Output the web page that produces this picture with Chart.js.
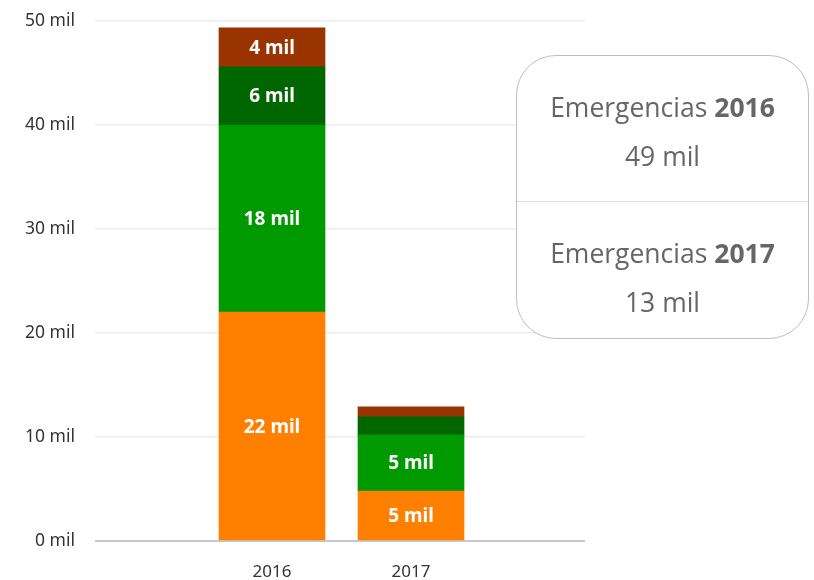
<!DOCTYPE html>
<html>
<head>
<meta charset="utf-8">
<script src="https://cdn.jsdelivr.net/npm/chart.js@4.4.1/dist/chart.umd.min.js"></script>
<style>
  html, body { margin: 0; padding: 0; background: #fff; }
  .wrap { position: relative; width: 814px; height: 580px; }
  #chart { position: absolute; left: 0; top: 0; }
  .resumen {
    position: absolute; left: 516px; top: 55px; width: 293px; height: 284px;
    border: 1px solid #bdbdbd; border-radius: 40px; background: #fff;
    font-family: "Open Sans", sans-serif; color: #666; text-align: center;
    box-sizing: border-box; overflow: hidden;
  }
  .resumen .item { height: 145px; padding-top: 27px; box-sizing: border-box; font-size: 26.5px; line-height: 49px; }
  .resumen .item + .item { border-top: 1px solid #ddd; height: 139px; padding-top: 27px; }
  .resumen b { font-weight: 700; }
</style>
</head>
<body>
<div class="wrap">
  <canvas id="chart" width="814" height="580"></canvas>
  <div class="resumen" id="resumen"></div>
</div>
<script>
  // datos (miles de emergencias)
  const years = ["2016", "2017"];
  const serieNaranja = [22.0, 4.8];
  const serieVerde = [18.0, 5.4];
  const serieVerdeOscuro = [5.6, 1.75];
  const serieMarron = [3.75, 0.95];
  const yTicks = [0, 10, 20, 30, 40, 50];

  const colores = ["#ff8000", "#009900", "#006600", "#993300"];
  const series = [serieNaranja, serieVerde, serieVerdeOscuro, serieMarron];

  const toPoints = (arr) => arr.map((v, i) => ({ x: i, y: v }));

  // etiquetas dentro de las barras
  const segmentLabels = {
    id: "segmentLabels",
    afterDatasetsDraw(chart) {
      const ctx = chart.ctx;
      ctx.save();
      ctx.fillStyle = "#fff";
      ctx.font = "bold 19px 'Noto Sans', sans-serif";
      ctx.textAlign = "center";
      ctx.textBaseline = "middle";
      chart.data.datasets.forEach((ds, di) => {
        const meta = chart.getDatasetMeta(di);
        meta.data.forEach((bar, i) => {
          const v = ds.data[i].y;
          if (v < 2.5) return;
          ctx.fillText(Math.round(v) + " mil", bar.x, (bar.y + bar.base) / 2 + 1);
        });
      });
      ctx.restore();
    },
  };

  new Chart(document.getElementById("chart").getContext("2d"), {
    type: "bar",
    data: {
      datasets: series.map((s, i) => ({
        data: toPoints(s),
        backgroundColor: colores[i],
        borderWidth: 0,
        barThickness: 106,
      })),
    },
    options: {
      responsive: false,
      animation: false,
      layout: { padding: { top: 21, right: 229, left: 0, bottom: 0 } },
      plugins: { legend: { display: false }, tooltip: { enabled: false } },
      scales: {
        x: {
          type: "linear",
          stacked: true,
          offset: false,
          min: -1.2734,
          max: 2.2518,
          afterBuildTicks: (scale) => {
            scale.ticks = years.map((y, i) => ({ value: i }));
          },
          afterFit: (scale) => { scale.height = 39; },
          grid: { display: false, drawTicks: false, offset: false },
          border: { display: false },
          ticks: {
            padding: 21,
            color: "#333",
            font: { family: "'Noto Sans', sans-serif", size: 17 },
            callback: (v) => years[v] || "",
          },
        },
        y: {
          stacked: true,
          min: 0,
          max: 50,
          afterBuildTicks: (scale) => {
            scale.ticks = yTicks.map((v) => ({ value: v }));
          },
          afterFit: (scale) => {
            scale.width = 95;
            scale.paddingTop = 0;
            scale.paddingBottom = 0;
          },
          border: { display: false },
          grid: {
            drawTicks: false,
            color: (c) => (c.tick && c.tick.value === 0 ? "#c8c8c8" : "#ebebeb"),
            lineWidth: (c) => (c.tick && c.tick.value === 0 ? 2 : 1.5),
          },
          ticks: {
            padding: 20,
            color: "#333",
            font: { family: "'Noto Sans', sans-serif", size: 17.5 },
            callback: (v) => v + " mil",
          },
        },
      },
    },
    plugins: [segmentLabels],
  });

  // cuadro resumen con totales por año
  const resumen = document.getElementById("resumen");
  years.forEach((y, i) => {
    const total = series.reduce((acc, s) => acc + s[i], 0);
    const div = document.createElement("div");
    div.className = "item";
    div.innerHTML = "Emergencias <b>" + y + "</b><br>" + Math.round(total) + " mil";
    resumen.appendChild(div);
  });
</script>
</body>
</html>
